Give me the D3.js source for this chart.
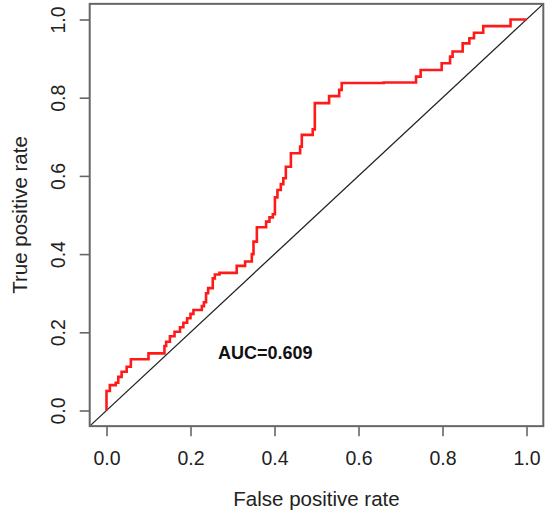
<!DOCTYPE html>
<html><head><meta charset="utf-8">
<script src="https://cdn.jsdelivr.net/npm/d3@7"></script>
<style>html,body{margin:0;padding:0;background:#fff;}svg{display:block;}</style>
</head><body>
<script>
const fpr = [0, 0, 0.008, 0.022, 0.028, 0.036, 0.048, 0.058, 0.1, 0.138, 0.142, 0.151, 0.162, 0.175, 0.183, 0.192, 0.2, 0.207, 0.227, 0.232, 0.237, 0.242, 0.253, 0.258, 0.269, 0.31, 0.33, 0.346, 0.35, 0.358, 0.38, 0.388, 0.396, 0.401, 0.407, 0.415, 0.421, 0.427, 0.439, 0.461, 0.465, 0.491, 0.496, 0.53, 0.554, 0.56, 0.66, 0.737, 0.748, 0.798, 0.818, 0.824, 0.848, 0.864, 0.875, 0.897, 0.962, 1];
const tpr = [0, 0.05, 0.065, 0.071, 0.086, 0.099, 0.112, 0.131, 0.146, 0.165, 0.176, 0.19, 0.2015, 0.213, 0.2245, 0.236, 0.247, 0.257, 0.267, 0.277, 0.30, 0.313, 0.338, 0.348, 0.352, 0.37, 0.381, 0.40, 0.432, 0.4685, 0.483, 0.494, 0.502, 0.545, 0.564, 0.579, 0.594, 0.6235, 0.658, 0.675, 0.705, 0.719, 0.786, 0.804, 0.82, 0.8376, 0.839, 0.854, 0.871, 0.888, 0.905, 0.918, 0.939, 0.952, 0.966, 0.983, 1, 1];
const xTicks = [0, 0.2, 0.4, 0.6, 0.8, 1.0];
const yTicks = [0, 0.2, 0.4, 0.6, 0.8, 1.0];
const xTitle = "False positive rate";
const yTitle = "True positive rate";
const aucLabel = "AUC=0.609";

const W = 550, H = 517;
const x = d3.scaleLinear().domain([0, 1]).range([106.5, 526.5]);
const y = d3.scaleLinear().domain([0, 1]).range([410.5, 19.5]);
const x0 = x(-0.04), x1 = x(1.04), y0 = y(-0.04), y1 = y(1.04);
const font = "Liberation Sans, Arial, sans-serif";

const svg = d3.select("body").append("svg").attr("width", W).attr("height", H);

// diagonal (abline across the whole plot region)
svg.append("clipPath").attr("id", "pc").append("rect")
  .attr("x", x0).attr("y", y1).attr("width", x1 - x0).attr("height", y0 - y1);
svg.append("line").attr("clip-path", "url(#pc)")
  .attr("x1", x(-0.04)).attr("y1", y(-0.04)).attr("x2", x(1.04)).attr("y2", y(1.04))
  .attr("stroke", "#222").attr("stroke-width", 1.3);

// ROC curve
const pts = fpr.map((f, i) => [f, tpr[i]]);
svg.append("path").datum(pts)
  .attr("d", d3.line().x(d => x(d[0])).y(d => y(d[1])).curve(d3.curveStepAfter))
  .attr("fill", "none").attr("stroke", "#ff1a1a").attr("stroke-width", 2.6)
  .attr("stroke-linejoin", "miter");

// box
svg.append("rect").attr("x", x0).attr("y", y1).attr("width", x1 - x0).attr("height", y0 - y1)
  .attr("fill", "none").attr("stroke", "#666").attr("stroke-width", 2);

// x axis
const xa = svg.append("g").attr("transform", `translate(0,${y0})`)
  .call(d3.axisBottom(x).tickValues(xTicks).tickSize(10).tickPadding(15).tickFormat(d3.format(".1f")));
xa.select(".domain").remove();
xa.selectAll("line").attr("stroke", "#666").attr("stroke-width", 1.6);
xa.selectAll("text").attr("font-family", font).attr("font-size", 19.5).attr("fill", "#222");

// y axis
const ya = svg.append("g").attr("transform", `translate(${x0},0)`)
  .call(d3.axisLeft(y).tickValues(yTicks).tickSize(10).tickFormat(d3.format(".1f")));
ya.select(".domain").remove();
ya.selectAll("line").attr("stroke", "#666").attr("stroke-width", 1.6);
ya.selectAll("text")
  .attr("font-family", font).attr("font-size", 19.5).attr("fill", "#222")
  .attr("x", null).attr("dy", null)
  .attr("text-anchor", "middle")
  .attr("transform", `translate(-25,0) rotate(-90)`);

// titles
svg.append("text").attr("x", (x(0) + x(1)) / 2).attr("y", 506)
  .attr("text-anchor", "middle").attr("font-family", font).attr("font-size", 20.5).attr("fill", "#222")
  .text(xTitle);
svg.append("text").attr("transform", `translate(27,${(y(0) + y(1)) / 2}) rotate(-90)`)
  .attr("text-anchor", "middle").attr("font-family", font).attr("font-size", 20.5).attr("fill", "#222")
  .text(yTitle);

// AUC label
svg.append("text").attr("x", 218).attr("y", 359)
  .attr("font-family", font).attr("font-size", 18).attr("font-weight", "bold").attr("fill", "#111")
  .text(aucLabel);
</script>
</body></html>
